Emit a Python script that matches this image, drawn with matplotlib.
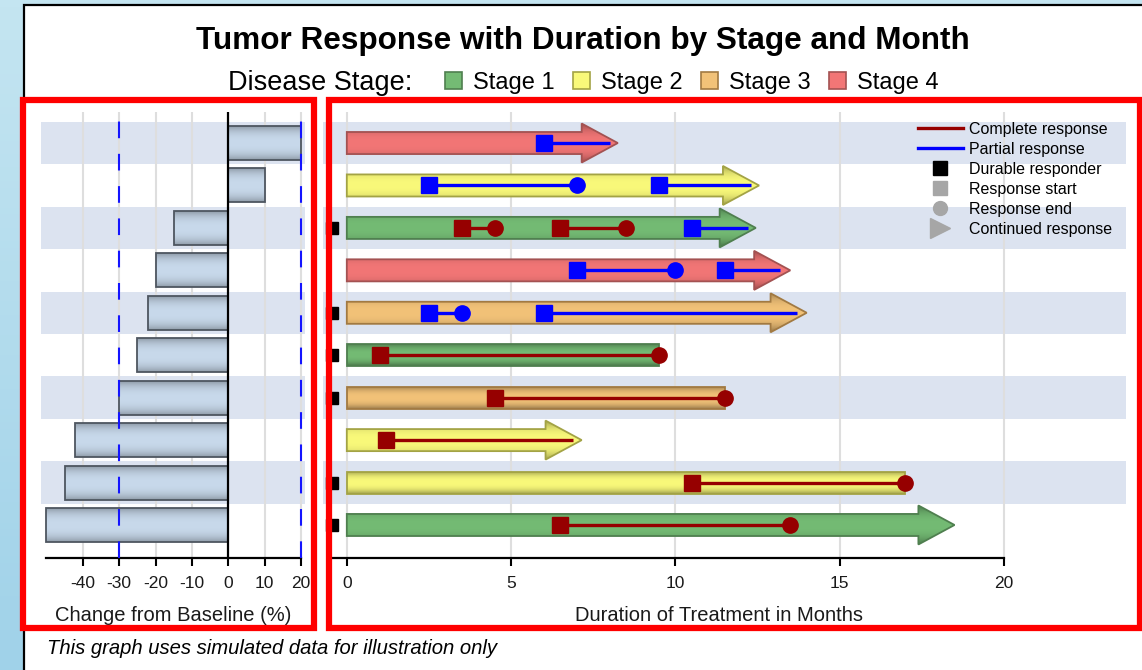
import numpy as np
import matplotlib
matplotlib.use('Agg')
import matplotlib.pyplot as plt
from matplotlib.patches import Rectangle, Polygon, Patch
from matplotlib.lines import Line2D
import matplotlib.colors as mcolors

plt.rcParams['font.family'] = ['Liberation Sans', 'DejaVu Sans']

# ---------------- data ----------------
rows = [1, 2, 3, 4, 5, 6, 7, 8, 9, 10]                 # subjects, top to bottom
change_pct = [20, 10, -15, -20, -22, -25, -30, -42, -45, -50]
stage = [4, 2, 1, 4, 3, 1, 3, 2, 2, 1]
duration = [8.25, 12.55, 12.45, 13.5, 14.0, 9.5, 11.5, 7.15, 17.0, 18.5]
continued = [True, True, True, True, True, False, False, True, False, True]
durable = [False, False, True, False, True, True, True, False, True, True]

resp_row = [1, 2, 2, 3, 3, 3, 4, 4, 5, 5, 6, 7, 8, 9, 10]
resp_type = ['P', 'P', 'P', 'C', 'C', 'P', 'P', 'P', 'P', 'P', 'C', 'C', 'C', 'C', 'C']
resp_start = [6.0, 2.5, 9.5, 3.5, 6.5, 10.5, 7.0, 11.5, 2.5, 6.0, 1.0, 4.5, 1.2, 10.5, 6.5]
resp_end = [8.0, 7.0, 12.3, 4.5, 8.5, 12.2, 10.0, 13.2, 3.5, 13.7, 9.5, 11.5, 6.9, 17.0, 13.5]
resp_ended = [False, True, False, True, True, False, True, False, True, False, True, True, False, True, True]

stage_names = ['Stage 1', 'Stage 2', 'Stage 3', 'Stage 4']
left_ticks = [-40, -30, -20, -10, 0, 10, 20]
left_ref = [-30, 20]
right_ticks = [0, 5, 10, 15, 20]

# ---------------- styles ----------------
stage_fill = {1: '#74bb74', 2: '#f9f97a', 3: '#f2c278', 4: '#f27676'}
stage_edge = {1: '#4f7f4f', 2: '#a3a345', 3: '#a27a42', 4: '#a35252'}
resp_color = {'C': '#960000', 'P': '#0000ff'}
band_color = '#dce3f0'
grid_color = '#dedede'

W, H = 1142, 670
fig = plt.figure(figsize=(W / 100, H / 100), dpi=100)


def fr(x0, y0, x1, y1):
    return [x0 / W, 1 - y1 / H, (x1 - x0) / W, (y1 - y0) / H]


# background
bg = fig.add_axes([0, 0, 1, 1], zorder=-10)
top_c = np.array([196, 229, 241]) / 255
bot_c = np.array([160, 210, 233]) / 255
t = np.linspace(0, 1, 100)[:, None]
grad = (top_c[None, :] * (1 - t) + bot_c[None, :] * t)[:, None, :]
bg.imshow(grad, extent=[0, 1, 0, 1], aspect='auto', transform=bg.transAxes)
bg.add_patch(Rectangle((24 / W, -0.01), 1, 1 - 5 / H + 0.01, transform=bg.transAxes,
                       facecolor='white', edgecolor='black', lw=1.6))
bg.set_xlim(0, 1)
bg.set_ylim(0, 1)
bg.axis('off')

YLIM = (10.778, 0.269)


def grad_patch(ax, verts, base, edge, x0, x1, y0, y1, dark=0.72, z=3):
    poly = Polygon(verts, closed=True, facecolor='none', edgecolor=edge, lw=1.3, zorder=z + 0.1)
    ax.add_patch(poly)
    tt = np.linspace(0, 1, 64)
    f = np.abs(2 * tt - 1) ** 2.5
    rgb = np.array(mcolors.to_rgb(base))
    cols = rgb[None, :] * (1 - (1 - dark) * f[:, None])
    im = ax.imshow(cols[:, None, :], extent=[x0, x1, y1, y0], aspect='auto',
                   interpolation='bilinear', zorder=z)
    im.set_clip_path(poly)


def style_axis(ax, ticks, lo, hi):
    for s in ['left', 'right', 'top']:
        ax.spines[s].set_visible(False)
    ax.spines['bottom'].set_linewidth(1.6)
    ax.spines['bottom'].set_bounds(lo, hi)
    ax.set_yticks([])
    ax.set_xticks(ticks)
    ax.set_xticklabels([str(v) for v in ticks])
    ax.tick_params(axis='x', direction='out', length=6, width=1.5, labelsize=12.5,
                   pad=7, colors='black', labelcolor='#1a1a1a')
    ax.set_facecolor('none')


# ---------------- left panel ----------------
axL = fig.add_axes(fr(41, 112, 305, 558))
xl0, xl1 = (41 - 228.3) / 3.64, (305 - 228.3) / 3.64
for r in rows:
    if r % 2 == 1:
        axL.axhspan(r - 0.5, r + 0.5, color=band_color, lw=0, zorder=0)
for v in left_ticks:
    if v != 0:
        axL.axvline(v, color=grid_color, lw=1.5, zorder=1)
for r, v in zip(rows, change_pct):
    x0, x1 = min(0, v), max(0, v)
    verts = [(x0, r - 0.4), (x1, r - 0.4), (x1, r + 0.4), (x0, r + 0.4)]
    grad_patch(axL, verts, '#c8d9eb', '#4e5660', x0, x1, r - 0.4, r + 0.4, dark=0.72)
axL.axvline(0, color='black', lw=1.6, zorder=5)
for v in left_ref:
    axL.axvline(v, color='#1414ff', lw=1.5, ls=(0, (8, 7.5)), zorder=6)
axL.set_xlim(xl0, xl1)
axL.set_ylim(*YLIM)
style_axis(axL, left_ticks, -50, 20)
axL.set_xlabel('Change from Baseline (%)', fontsize=14.5, labelpad=11, color='#1a1a1a')

# ---------------- right panel ----------------
axR = fig.add_axes(fr(323, 112, 1126, 558))
xr0, xr1 = (323 - 346.8) / 32.85, (1126 - 346.8) / 32.85
for r in rows:
    if r % 2 == 1:
        axR.axhspan(r - 0.5, r + 0.5, color=band_color, lw=0, zorder=0)
for v in right_ticks:
    axR.axvline(v, color=grid_color, lw=1.5, zorder=1)

BH, HH, HL = 0.26, 0.46, 1.1
for r, s, d, c in zip(rows, stage, duration, continued):
    if c:
        hx = d - HL
        verts = [(0, r - BH), (hx, r - BH), (hx, r - HH), (d, r), (hx, r + HH), (hx, r + BH), (0, r + BH)]
        grad_patch(axR, verts, stage_fill[s], stage_edge[s], 0, d, r - HH, r + HH, dark=0.62)
    else:
        verts = [(0, r - BH), (d, r - BH), (d, r + BH), (0, r + BH)]
        grad_patch(axR, verts, stage_fill[s], stage_edge[s], 0, d, r - BH, r + BH, dark=0.62)

for r, typ, s0, s1, ended in zip(resp_row, resp_type, resp_start, resp_end, resp_ended):
    col = resp_color[typ]
    axR.plot([s0, s1], [r, r], color=col, lw=2.4, zorder=6, solid_capstyle='butt')
    axR.plot([s0], [r], marker='s', ms=11, color=col, mec=col, zorder=7, ls='none')
    if ended:
        axR.plot([s1], [r], marker='o', ms=11, color=col, mec=col, zorder=7, ls='none')

dur_rows = [r for r, d in zip(rows, durable) if d]
axR.plot([-0.45] * len(dur_rows), dur_rows, marker='s', ms=9, color='black', ls='none', zorder=7)

axR.set_xlim(xr0, xr1)
axR.set_ylim(*YLIM)
style_axis(axR, right_ticks, -0.58, 20)
axR.set_xlabel('Duration of Treatment in Months', fontsize=14.5, labelpad=11, color='#1a1a1a',
               x=(719 - 323) / 803)

gray = '#a6a6a6'
handles = [
    Line2D([], [], color=resp_color['C'], lw=2.4, label='Complete response'),
    Line2D([], [], color=resp_color['P'], lw=2.4, label='Partial response'),
    Line2D([], [], color='black', marker='s', ms=10, ls='none', label='Durable responder'),
    Line2D([], [], color=gray, marker='s', ms=10, ls='none', label='Response start'),
    Line2D([], [], color=gray, marker='o', ms=10, ls='none', label='Response end'),
    Line2D([], [], color=gray, marker='>', ms=15, ls='none', label='Continued response'),
]
leg = axR.legend(handles=handles, loc='upper left', bbox_to_anchor=((918 - 323) / 803, 1 - 10 / 446),
                 frameon=False, fontsize=11.5, handlelength=2.8, handletextpad=0.4,
                 labelspacing=0.31, borderpad=0, borderaxespad=0)
leg.set_zorder(10)

# ---------------- titles ----------------
fig.text(582.5 / W, 1 - 41 / H, 'Tumor Response with Duration by Stage and Month',
         ha='center', va='center', fontsize=22.7, fontweight='bold')
fig.text(228 / W, 1 - 83 / H, 'Disease Stage:', ha='left', va='center', fontsize=19.5)
stage_handles = [Patch(facecolor=stage_fill[i + 1], edgecolor=stage_edge[i + 1], lw=1.2, label=n)
                 for i, n in enumerate(stage_names)]
fig.legend(handles=stage_handles, loc='center left', bbox_to_anchor=(445 / W, 1 - 83 / H), ncol=4,
           frameon=False, fontsize=17, handlelength=0.72, handleheight=0.72, handletextpad=0.45,
           columnspacing=0.8, borderpad=0, borderaxespad=0)
fig.text(47 / W, 1 - 649 / H, 'This graph uses simulated data for illustration only',
         ha='left', va='center', fontsize=14.6, style='italic')

# red frames
for (x0, y0, x1, y1) in [(23, 100, 313.5, 628), (328.5, 100, 1140, 628)]:
    fig.patches.append(Rectangle((x0 / W, 1 - y1 / H), (x1 - x0) / W, (y1 - y0) / H,
                                 transform=fig.transFigure, fill=False, edgecolor='#ff0000',
                                 lw=4.5, zorder=20))

fig.savefig('out.png', dpi=100)
